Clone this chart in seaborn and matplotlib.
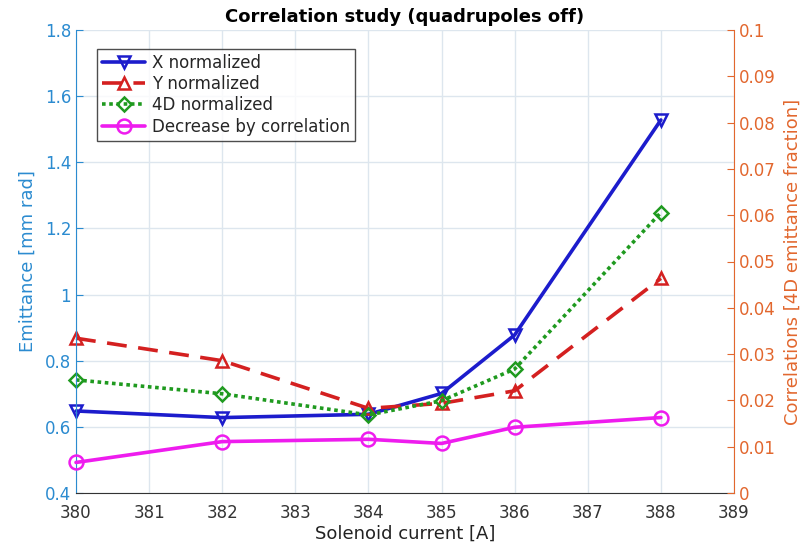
import matplotlib
matplotlib.use("Agg")
import matplotlib.pyplot as plt
import seaborn as sns
import pandas as pd

# Solenoid scan data
current = [380, 382, 384, 385, 386, 388]
x_norm = [0.648, 0.628, 0.638, 0.701, 0.878, 1.528]
y_norm = [0.868, 0.800, 0.656, 0.671, 0.709, 1.049]
d4_norm = [0.742, 0.700, 0.636, 0.679, 0.775, 1.248]
decrease = [0.0066, 0.0111, 0.0116, 0.0107, 0.0142, 0.0163]

x_ticks = list(range(380, 390))
left_ticks = [0.4, 0.6, 0.8, 1.0, 1.2, 1.4, 1.6, 1.8]
left_ticklabels = ["0.4", "0.6", "0.8", "1", "1.2", "1.4", "1.6", "1.8"]
right_ticks = [0, 0.01, 0.02, 0.03, 0.04, 0.05, 0.06, 0.07, 0.08, 0.09, 0.1]
right_ticklabels = ["0", "0.01", "0.02", "0.03", "0.04", "0.05", "0.06", "0.07", "0.08", "0.09", "0.1"]

sns.set_style("white")
plt.rcParams["font.family"] = ["DejaVu Sans"]

BLUE_AX = "#2b8bd0"
ORANGE_AX = "#e2672e"
C_X = "#1c1ccc"
C_Y = "#d42020"
C_4D = "#1f9a1f"
C_DEC = "#ee1cee"

fig = plt.figure(figsize=(8.10, 5.49), dpi=100)
ax = fig.add_axes([76 / 810, 1 - 493 / 549, (734 - 76) / 810, (493 - 30) / 549])
ax2 = ax.twinx()

df = pd.DataFrame({"current": current, "x": x_norm, "y": y_norm, "d4": d4_norm, "dec": decrease})

common = dict(markersize=9, markerfacecolor="none", markeredgewidth=1.8, linewidth=2.6)
sns.lineplot(data=df, x="current", y="x", ax=ax, color=C_X, marker="v",
             markeredgecolor=C_X, label="X normalized", **common)
sns.lineplot(data=df, x="current", y="y", ax=ax, color=C_Y, marker="^",
             markeredgecolor=C_Y, label="Y normalized", **common)
sns.lineplot(data=df, x="current", y="d4", ax=ax, color=C_4D, marker="D",
             markeredgecolor=C_4D, label="4D normalized", **common)
sns.lineplot(data=df, x="current", y="dec", ax=ax2, color=C_DEC, marker="o",
             markeredgecolor=C_DEC, label="Decrease by correlation", **common)

ax.lines[1].set_linestyle((0, (5.5, 3.2)))
ax.lines[2].set_linestyle((0, (1, 1)))
ax.lines[2].set_markersize(7.5)
ax2.lines[0].set_markersize(10)
for l in ax.lines + ax2.lines:
    l.set_clip_on(False)

ax.set_xlim(380, 389)
ax.set_ylim(0.4, 1.8)
ax2.set_ylim(0, 0.1)
ax.set_xticks(x_ticks)
ax.set_xticklabels([str(t) for t in x_ticks])
ax.set_yticks(left_ticks)
ax.set_yticklabels(left_ticklabels)
ax2.set_yticks(right_ticks)
ax2.set_yticklabels(right_ticklabels)

ax.grid(True, color="#dde6ee", linewidth=1)
ax.set_axisbelow(True)

for a in (ax, ax2):
    for s in a.spines.values():
        s.set_visible(False)
ax.spines["bottom"].set_visible(True)
ax.spines["bottom"].set_color("#333333")
ax.spines["left"].set_visible(True)
ax.spines["left"].set_color(BLUE_AX)
ax2.spines["right"].set_visible(True)
ax2.spines["right"].set_color(ORANGE_AX)

ax.tick_params(axis="x", colors="#333333", labelsize=12, direction="in", length=5, pad=8)
ax.tick_params(axis="y", colors=BLUE_AX, labelsize=12, direction="in", length=5)
ax2.tick_params(axis="y", colors=ORANGE_AX, labelsize=12, direction="in", length=5)

ax.set_xlabel("Solenoid current [A]", fontsize=13, color="#222222", labelpad=2)
ax.set_ylabel("Emittance [mm rad]", fontsize=13, color=BLUE_AX, labelpad=6)
ax2.set_ylabel("Correlations [4D emittance fraction]", fontsize=13, color=ORANGE_AX, labelpad=6)
ax.set_title("Correlation study (quadrupoles off)", fontsize=13, fontweight="bold",
             color="black", pad=6)

h1, l1 = ax.get_legend_handles_labels()
h2, l2 = ax2.get_legend_handles_labels()
if ax2.get_legend() is not None:
    ax2.get_legend().remove()
leg = ax.legend(h1 + h2, l1 + l2, loc="upper left", bbox_to_anchor=(0.032, 0.96),
                fontsize=12, frameon=True, fancybox=False, edgecolor="#222222",
                handlelength=2.6, handletextpad=0.4, borderpad=0.3, labelspacing=0.2,
                borderaxespad=0)
leg.get_frame().set_linewidth(1)
leg.set_zorder(10)

fig.savefig("out.png", dpi=100)
